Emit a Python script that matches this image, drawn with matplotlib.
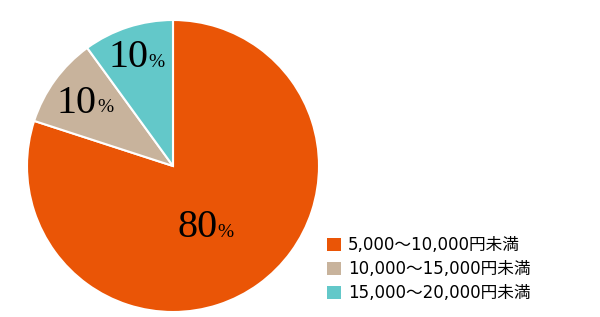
import matplotlib.pyplot as plt
import numpy as np
from matplotlib.patches import Patch

labels = ["5,000～10,000円未満", "10,000～15,000円未満", "15,000～20,000円未満"]
shares = [80, 10, 10]
colors = ["#EA5506", "#C8B39C", "#63C8C9"]

plt.rcParams["font.family"] = ["DejaVu Sans", "Noto Sans CJK JP"]

fig = plt.figure(figsize=(6, 3.17), dpi=100)
ax = fig.add_axes([27 / 600, 5 / 317, 292 / 600, 292 / 317])

wedges, _ = ax.pie(shares, colors=colors, startangle=90, counterclock=False,
                   radius=1, wedgeprops=dict(edgecolor="white", linewidth=1.5))
ax.set_xlim(-1, 1)
ax.set_ylim(-1, 1)
ax.set_aspect("equal")
ax.axis("off")

# value labels: big serif number with a smaller percent sign
dist = [0.485, 0.73, 0.78]
turn = [-7, 0, 0]
for w, v, d, t in zip(wedges, shares, dist, turn):
    ang = np.deg2rad((w.theta1 + w.theta2) / 2 + t)
    x, y = d * np.cos(ang), d * np.sin(ang)
    ax.text(x + 0.07, y, str(v), family="Liberation Serif", fontsize=29,
            ha="right", va="center")
    ax.text(x + 0.07, y - 0.03, "%", family="Liberation Serif", fontsize=14,
            ha="left", va="center")

handles = [Patch(facecolor=c, edgecolor="none") for c in colors]
fig.legend(handles, labels, loc="upper left", bbox_to_anchor=(327 / 600, 1 - 236 / 317),
           frameon=False, fontsize=12, handlelength=0.85, handleheight=0.85,
           handletextpad=0.4, labelspacing=0.36, borderpad=0, borderaxespad=0)

fig.savefig("out.png", dpi=100)
